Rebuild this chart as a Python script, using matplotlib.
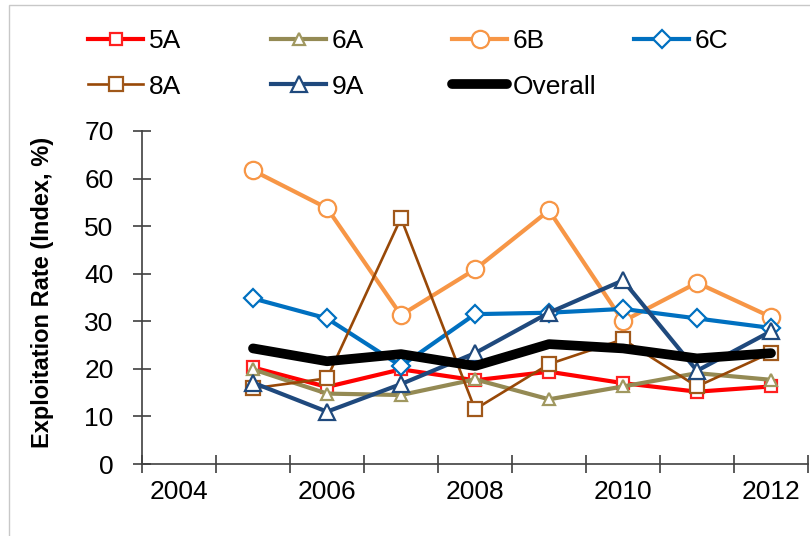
import matplotlib
matplotlib.use("Agg")
import matplotlib.pyplot as plt
from matplotlib.patches import Rectangle

plt.rcParams['font.family'] = ['Liberation Sans', 'DejaVu Sans']

# category axis 2004..2012, data only from 2005
years = [2004, 2005, 2006, 2007, 2008, 2009, 2010, 2011, 2012]
data_years = [2005, 2006, 2007, 2008, 2009, 2010, 2011, 2012]

s5A = [20.3, 16.2, 19.9, 17.6, 19.4, 17.0, 15.2, 16.3]
s6A = [19.9, 14.8, 14.5, 17.8, 13.6, 16.3, 19.1, 17.7]
s6B = [61.7, 53.8, 31.3, 40.9, 53.3, 30.0, 38.1, 30.9]
s6C = [34.8, 30.6, 20.6, 31.5, 31.8, 32.6, 30.6, 28.6]
s8A = [15.9, 18.0, 51.7, 11.5, 21.0, 26.2, 16.3, 23.4]
s9A = [17.1, 11.0, 16.8, 23.3, 31.8, 38.6, 19.6, 27.9]
overall = [24.3, 21.6, 23.1, 20.6, 25.2, 24.3, 22.2, 23.3]

xpos = [years.index(y) for y in data_years]

fig = plt.figure(figsize=(8.1, 5.36), dpi=100)
ax = fig.add_axes([142/810, 1 - 464/536, 666/810, 333/536])

series = [
    ("5A", s5A, "#FF0000", "s", 8, 3.0, "#FF2020"),
    ("6A", s6A, "#948A54", "^", 8, 3.0, "#A09860"),
    ("6B", s6B, "#F79646", "o", 12.5, 3.0, "#F79646"),
    ("6C", s6C, "#0070C0", "D", 9.5, 3.0, "#0070C0"),
    ("8A", s8A, "#984807", "s", 9.5, 1.9, "#A0581A"),
    ("9A", s9A, "#1F497D", "^", 12, 3.0, "#1F497D"),
]
handles = []
for name, vals, col, mk, ms, lw, mec in series:
    ln, = ax.plot(xpos, vals, color=col, lw=lw, marker=mk, ms=ms,
                  mfc="white", mec=mec, mew=1.6, label=name)
    handles.append(ln)
ln, = ax.plot(xpos, overall, color="black", lw=7, solid_capstyle="round",
              solid_joinstyle="round", label="Overall")
handles.append(ln)

ax.set_xlim(-0.5, len(years) - 0.5)
ax.set_ylim(0, 70)
ax.set_yticks(range(0, 71, 10))
ax.set_xticks(range(0, len(years), 2))
ax.set_xticklabels([str(y) for y in years[::2]])
ax.set_xticks([i - 0.5 for i in range(len(years) + 1)], minor=True)

for sp in ("top", "right"):
    ax.spines[sp].set_visible(False)
for sp in ("left", "bottom"):
    ax.spines[sp].set_color("#404040")
    ax.spines[sp].set_linewidth(1.2)

ax.tick_params(axis="x", which="major", length=0, pad=11.5, labelsize=19)
ax.tick_params(axis="x", which="minor", direction="inout", length=13,
               width=1.2, color="#404040")
ax.tick_params(axis="y", which="major", direction="inout", length=13,
               width=1.2, color="#404040", pad=14, labelsize=19)

ax.set_ylabel("Exploitation Rate (Index, %)", fontsize=17, fontweight="bold")
ax.yaxis.set_label_coords((54 - 142) / 666, (464 - 292.5) / 333)

# legend laid out in four fixed columns like the original
cols = [(88, [0, 4]), (271, [1, 5]), (452, [2, 6]), (634, [3])]
for xpx, idx in cols:
    fig.legend([handles[i] for i in idx], [handles[i].get_label() for i in idx],
               loc="upper left", bbox_to_anchor=(xpx / 810, 1 - 29 / 536),
               frameon=False, fontsize=19, borderpad=0, borderaxespad=0,
               handlelength=2.1, handletextpad=0.2, labelspacing=0.82,
               numpoints=1)

fig.patches.append(Rectangle((9 / 810, -0.05), 1.2, 1.05 - 5 / 536,
                             transform=fig.transFigure, fill=False,
                             edgecolor="#C8C8C8", lw=1))

fig.savefig("out.png", dpi=100)
